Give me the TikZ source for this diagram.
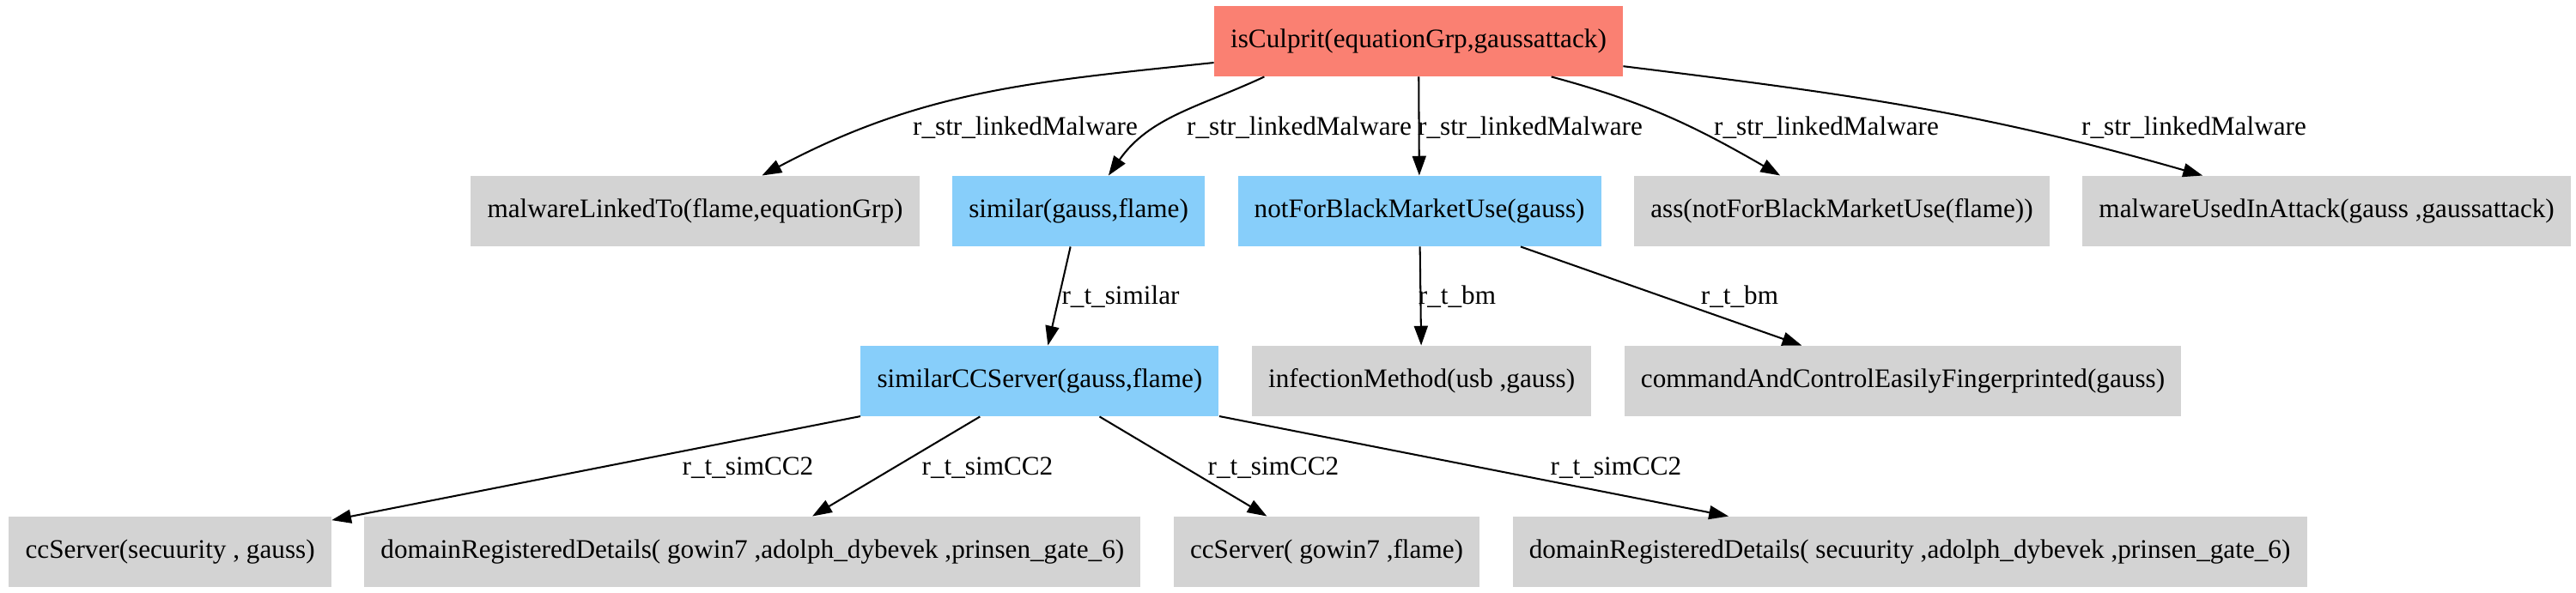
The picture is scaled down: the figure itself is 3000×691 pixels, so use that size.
\documentclass[tikz,border=0pt]{standalone}
\usepackage{fontspec}
\setmainfont{Liberation Serif}
\usetikzlibrary{arrows.meta, positioning}
\definecolor{culpritred}{HTML}{FA8072}
\definecolor{derivedblue}{HTML}{87CEFA}
\definecolor{factgray}{HTML}{D3D3D3}

\begin{document}
\begin{tikzpicture}[
    x=0.439pt, y=0.439pt,
    node distance=0.6cm and 16.5pt,
    fact/.style={fill=#1, minimum height=36pt, inner xsep=8.4pt, inner ysep=0pt, font=\fontsize{13.7pt}{16pt}\selectfont},
    arrow/.style={-{Triangle[length=10pt, width=7pt]}, line width=0.9pt},
    edgelabel/.style={font=\fontsize{13.7pt}{16pt}\selectfont, inner sep=0pt}
]
\useasboundingbox (0,0) rectangle (3000,-691);

% Root
\node[fact=culpritred] at (1652,-48) (culprit) {isCulprit(equationGrp,gaussattack)};

% Second row
\node[fact=factgray, anchor=west] at (548,-246) (linked) {malwareLinkedTo(flame,equationGrp)};
\node[fact=derivedblue, right=of linked] (similar) {similar(gauss,flame)};
\node[fact=derivedblue, right=of similar] (noblack) {notForBlackMarketUse(gauss)};
\node[fact=factgray, right=of noblack] (assnb) {ass(notForBlackMarketUse(flame))};
\node[fact=factgray, right=of assnb] (usedattack) {malwareUsedInAttack(gauss ,gaussattack)};

% Third row
\node[fact=derivedblue, anchor=west] at (1002,-444) (simcc) {similarCCServer(gauss,flame)};
\node[fact=factgray, right=of simcc] (infection) {infectionMethod(usb ,gauss)};
\node[fact=factgray, right=of infection] (cceasy) {commandAndControlEasilyFingerprinted(gauss)};

% Fourth row
\node[fact=factgray, anchor=west] at (10,-643) (ccsec) {ccServer(secuurity , gauss)};
\node[fact=factgray, right=of ccsec] (domgowin) {domainRegisteredDetails( gowin7 ,adolph\_dybevek ,prinsen\_gate\_6)};
\node[fact=factgray, right=of domgowin] (ccgowin) {ccServer( gowin7 ,flame)};
\node[fact=factgray, right=of ccgowin] (domsec) {domainRegisteredDetails( secuurity ,adolph\_dybevek ,prinsen\_gate\_6)};

% Edges from the root
\draw[arrow] (culprit) to[out=186, in=28] (linked);
\draw[arrow] (culprit.193) to[out=205, in=55] (similar.50);
\draw[arrow] (culprit) -- (noblack);
\draw[arrow] (culprit) to[out=345, in=150] (assnb);
\draw[arrow] (culprit) to[out=353, in=164] (usedattack);

% Edges below
\draw[arrow] (similar) -- (simcc);
\draw[arrow] (noblack) -- (infection);
\draw[arrow] (noblack) -- (cceasy);
\draw[arrow] (simcc) -- (ccsec);
\draw[arrow] (simcc) -- (domgowin);
\draw[arrow] (simcc) -- (ccgowin);
\draw[arrow] (simcc) -- (domsec);

% Edge labels
\node[edgelabel] at (1194,-149) (lbllinked) {r\_str\_linkedMalware};
\node[edgelabel] at (1513,-149) (lblsimilar) {r\_str\_linkedMalware};
\node[edgelabel] at (1782,-149) (lblnoblack) {r\_str\_linkedMalware};
\node[edgelabel] at (2127,-149) (lblassnb) {r\_str\_linkedMalware};
\node[edgelabel] at (2555,-149) (lblused) {r\_str\_linkedMalware};
\node[edgelabel] at (1305,-346) (lblsimcc) {r\_t\_similar};
\node[edgelabel] at (1697,-346) (lblinfect) {r\_t\_bm};
\node[edgelabel] at (2026,-346) (lblcceasy) {r\_t\_bm};
\node[edgelabel] at (871,-545) (lblccsec) {r\_t\_simCC2};
\node[edgelabel] at (1150,-545) (lbldomgowin) {r\_t\_simCC2};
\node[edgelabel] at (1483,-545) (lblccgowin) {r\_t\_simCC2};
\node[edgelabel] at (1882,-545) (lbldomsec) {r\_t\_simCC2};

\end{tikzpicture}
\end{document}
